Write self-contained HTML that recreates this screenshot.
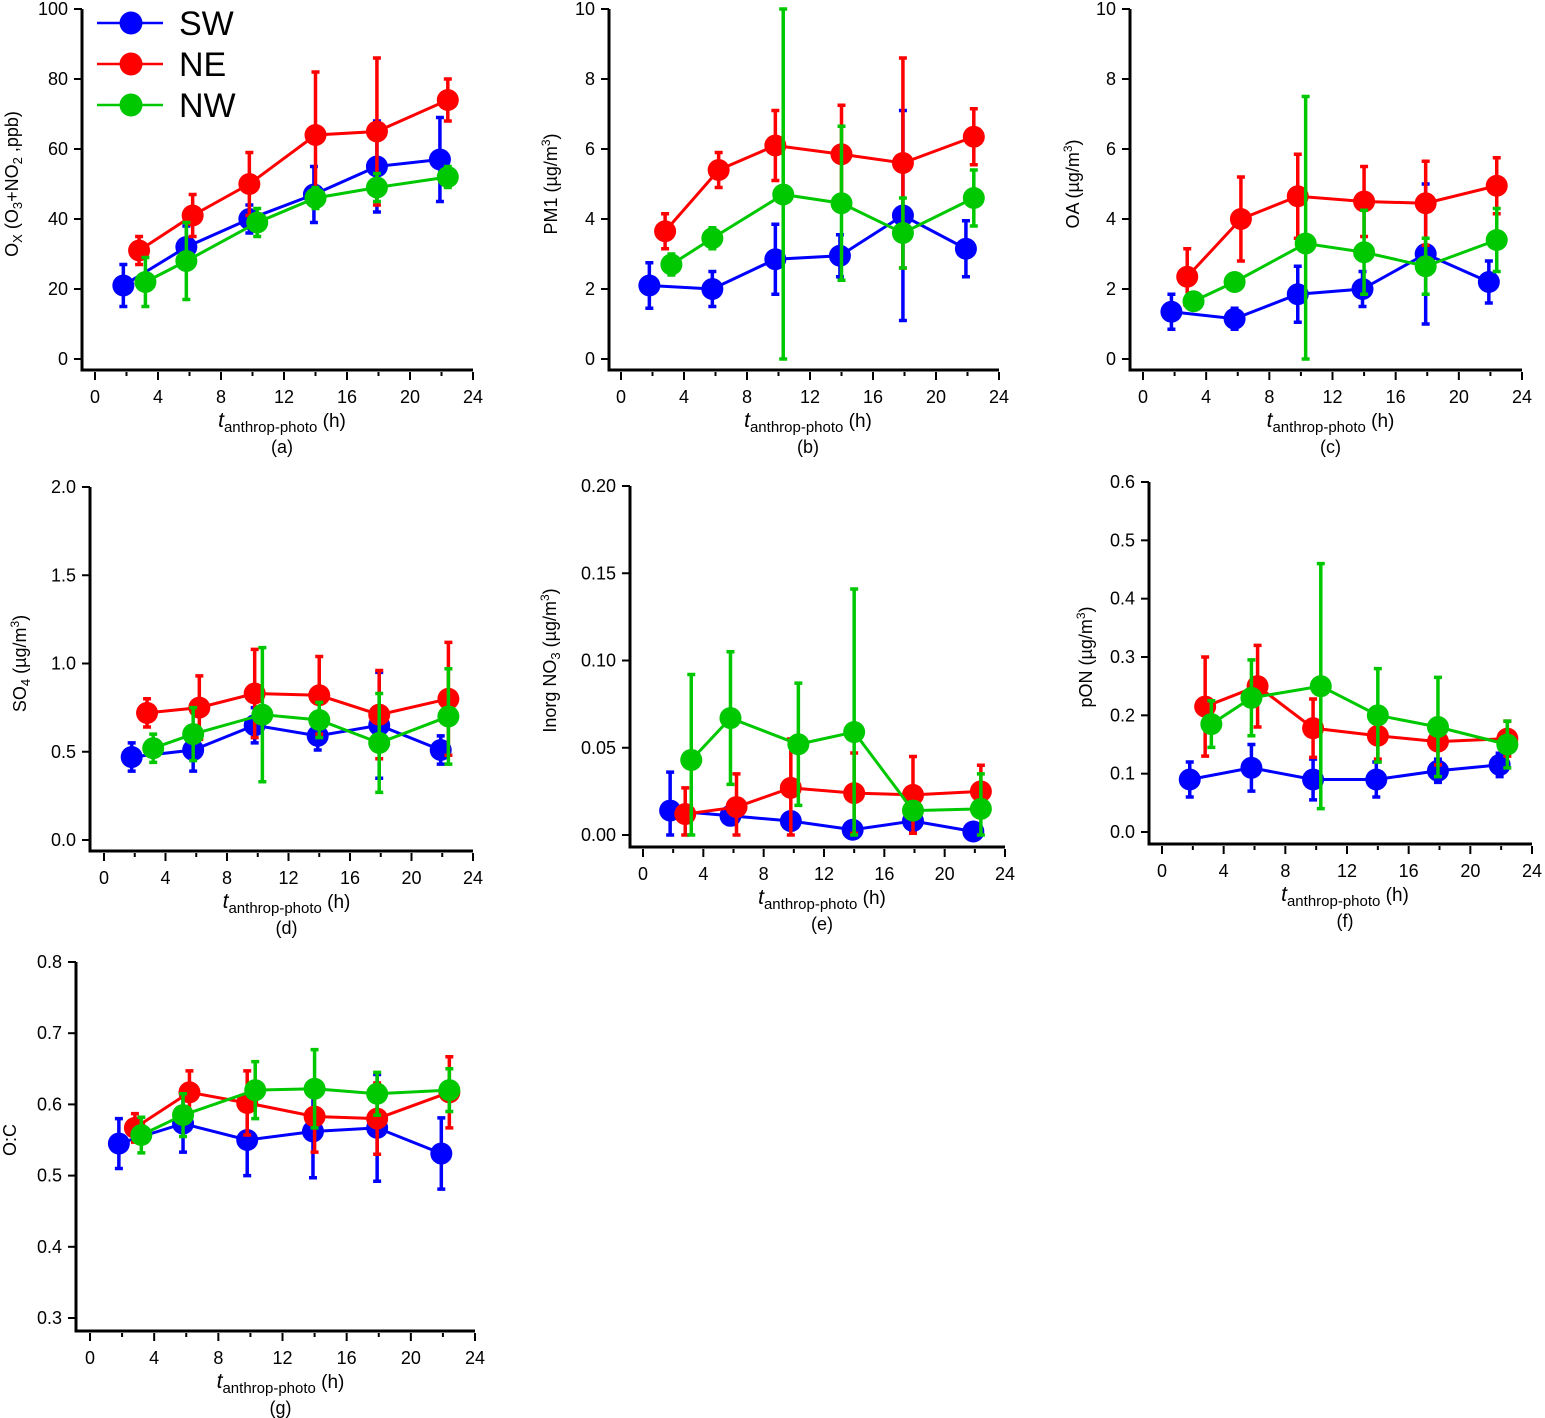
<!DOCTYPE html>
<html><head><meta charset="utf-8"><style>
html,body{margin:0;padding:0;background:#fff;}
svg{display:block;font-family:"Liberation Sans",Arial,sans-serif;}
</style></head><body>
<svg id="fig" width="1545" height="1418" viewBox="0 0 1545 1418" xmlns="http://www.w3.org/2000/svg"></svg>
<script>
const xSW = [1.8, 5.8, 9.8, 13.9, 17.9, 21.9];
const xNE = [2.8, 6.2, 9.8, 14.0, 17.9, 22.4];
const xNW = [3.2, 5.8, 10.3, 14.0, 17.9, 22.4];

const aSW = [21, 32, 40, 47, 55, 57];      const aSWe = [6, 6, 4, 8, 13, 12];
const aNE = [31, 41, 50, 64, 65, 74];      const aNEe = [4, 6, 9, 18, 21, 6];
const aNW = [22, 28, 39, 46, 49, 52];      const aNWe = [7, 11, 4, 3, 4, 3];

const bSW = [2.1, 2.0, 2.85, 2.95, 4.1, 3.15]; const bSWe = [0.65, 0.5, 1.0, 0.6, 3.0, 0.8];
const bNE = [3.65, 5.4, 6.1, 5.85, 5.6, 6.35]; const bNEe = [0.5, 0.5, 1.0, 1.4, 3.0, 0.8];
const bNW = [2.7, 3.45, 4.7, 4.45, 3.6, 4.6];  const bNWe = [0.3, 0.3, 5.5, 2.2, 1.0, 0.8];

const cSW = [1.35, 1.15, 1.85, 2.0, 3.0, 2.2];  const cSWe = [0.5, 0.3, 0.8, 0.5, 2.0, 0.6];
const cNE = [2.35, 4.0, 4.65, 4.5, 4.45, 4.95]; const cNEe = [0.8, 1.2, 1.2, 1.0, 1.2, 0.8];
const cNW = [1.65, 2.2, 3.3, 3.05, 2.65, 3.4];  const cNWe = [0.2, 0.2, 4.2, 1.2, 0.8, 0.9];

const dSW = [0.47, 0.51, 0.65, 0.59, 0.65, 0.51]; const dSWe = [0.08, 0.12, 0.1, 0.08, 0.3, 0.08];
const dNE = [0.72, 0.75, 0.83, 0.82, 0.71, 0.80]; const dNEe = [0.08, 0.18, 0.25, 0.22, 0.25, 0.32];
const dNW = [0.52, 0.60, 0.71, 0.68, 0.55, 0.70]; const dNWe = [0.08, 0.15, 0.38, 0.1, 0.28, 0.27];

const eSW = [0.014, 0.011, 0.008, 0.003, 0.008, 0.002]; const eSWe = [0.022, 0.005, 0.005, 0.002, 0.005, 0.002];
const eNE = [0.012, 0.016, 0.027, 0.024, 0.023, 0.025]; const eNEe = [0.015, 0.019, 0.028, 0.023, 0.022, 0.015];
const eNW = [0.043, 0.067, 0.052, 0.059, 0.014, 0.015]; const eNWe = [0.049, 0.038, 0.035, 0.082, 0.005, 0.02];

const fSW = [0.09, 0.11, 0.09, 0.09, 0.105, 0.115]; const fSWe = [0.03, 0.04, 0.035, 0.03, 0.02, 0.02];
const fNE = [0.215, 0.25, 0.178, 0.165, 0.155, 0.16]; const fNEe = [0.085, 0.07, 0.05, 0.04, 0.04, 0.03];
const fNW = [0.185, 0.23, 0.25, 0.2, 0.18, 0.15]; const fNWe = [0.04, 0.065, 0.21, 0.08, 0.085, 0.04];

const gSW = [0.545, 0.573, 0.55, 0.562, 0.567, 0.531]; const gSWe = [0.035, 0.04, 0.05, 0.065, 0.075, 0.05];
const gNE = [0.567, 0.617, 0.602, 0.583, 0.58, 0.617]; const gNEe = [0.02, 0.03, 0.045, 0.05, 0.05, 0.05];
const gNW = [0.557, 0.585, 0.62, 0.622, 0.615, 0.62];  const gNWe = [0.025, 0.03, 0.04, 0.055, 0.03, 0.03];

const xTickLabels = ["0","4","8","12","16","20","24"];

const NS = "http://www.w3.org/2000/svg";
const svg = document.getElementById("fig");
function mk(tag, attrs, parent){
  const e = document.createElementNS(NS, tag);
  for (const k in attrs) e.setAttribute(k, attrs[k]);
  (parent||svg).appendChild(e);
  return e;
}
const COL = {SW:"#0000ff", NE:"#ff0000", NW:"#00c800"};

function panel(p){
  const g = mk("g", {});
  
  
  const X = v => p.x0 + (p.x24 - p.x0) * v / 24;
  const Y = v => p.yb + (p.yt - p.yb) * (v - p.ymin) / (p.ymax - p.ymin);
  const ax = mk("path", {d:`M${p.ax},${Y(p.ymax)} V${p.ay} H${X(24)}`, fill:"none", stroke:"#000", "stroke-width":3}, g);
  
  
  for (let i = 0; i < p.yticks.length; i++){
    const v = p.yticks[i];
    mk("line", {x1:p.ax-8, x2:p.ax, y1:Y(v), y2:Y(v), stroke:"#000", "stroke-width":2}, g);
    const t = mk("text", {x:p.ax-14, y:Y(v)+6, "text-anchor":"end", "font-size":18}, g);
    t.textContent = p.ylabels[i];
    
    
  }
  for (let h = 0; h <= 24; h += 2){
    const major = h % 4 === 0;
    mk("line", {x1:X(h), x2:X(h), y1:p.ay+2, y2:p.ay+(major?10:6), stroke:"#000", "stroke-width":2}, g);
  }
  for (let i = 0; i < xTickLabels.length; i++){
    const t = mk("text", {x:X(i*4), y:p.ay+33, "text-anchor":"middle", "font-size":18}, g);
    t.textContent = xTickLabels[i];
    
    
  }
  const xt = mk("text", {x:(X(0)+X(24))/2 - 2, y:p.ay+57, "text-anchor":"middle", "font-size":19}, g);
  xt.innerHTML = '<tspan font-style="italic" font-size="21">t</tspan><tspan font-size="15" dy="5">anthrop-photo</tspan><tspan dy="-5"> (h)</tspan>';
  
  
  const lab = mk("text", {x:(X(0)+X(24))/2 - 2, y:p.ay+83, "text-anchor":"middle", "font-size":18}, g);
  lab.textContent = "(" + p.id + ")";
  
  
  const cy = (Y(p.ymin)+Y(p.ymax))/2;
  const yt = mk("text", {x:0, y:0, "text-anchor":"middle", "font-size":18, transform:`translate(${p.ytx},${cy}) rotate(-90)`}, g);
  yt.innerHTML = p.ytitle;
  
  
  for (const s of p.series){
    const sg = mk("g", {}, g);
    
    
    const c = COL[s.name];
    let d = "";
    s.x.forEach((xv, i) => { d += (i ? "L" : "M") + X(xv) + "," + Y(s.y[i]); });
    mk("path", {d, fill:"none", stroke:c, "stroke-width":3}, sg);
    s.x.forEach((xv, i) => {
      const cx = X(xv), y1 = Y(Math.min(p.ymax, s.y[i] + s.e[i])), y2 = Y(Math.max(p.ymin, s.y[i] - s.e[i]));
      const eb = mk("path", {d:`M${cx},${y1}V${y2}M${cx-4},${y1}H${cx+4}M${cx-4},${y2}H${cx+4}`, stroke:c, "stroke-width":3.5, fill:"none"}, sg);
      
      
    });
    s.x.forEach((xv, i) => {
      const m = mk("circle", {cx:X(xv), cy:Y(s.y[i]), r:11, fill:c}, sg);
      
      
    });
  }
}
const fmt = (arr, d) => arr.map(v => v.toFixed(d));

panel({id:"a", x0:95, x24:473, yb:359, yt:9, ymin:0, ymax:100, ax:82, ay:370,
  yticks:[0,20,40,60,80,100], ylabels:fmt([0,20,40,60,80,100],0), ytx:18,
  ytitle:'O<tspan font-size="13" dy="4">X</tspan><tspan dy="-4"> (O</tspan><tspan font-size="13" dy="4">3</tspan><tspan dy="-4">+NO</tspan><tspan font-size="13" dy="4">2</tspan><tspan dy="-4"> ,ppb)</tspan>',
  series:[{name:"SW",x:xSW,y:aSW,e:aSWe},{name:"NE",x:xNE,y:aNE,e:aNEe},{name:"NW",x:xNW,y:aNW,e:aNWe}]});
panel({id:"b", x0:621, x24:999, yb:359, yt:9, ymin:0, ymax:10, ax:609, ay:370,
  yticks:[0,2,4,6,8,10], ylabels:fmt([0,2,4,6,8,10],0), ytx:557,
  ytitle:'PM1 (µg/m<tspan font-size="12" dy="-7">3</tspan><tspan dy="7">)</tspan>',
  series:[{name:"SW",x:xSW,y:bSW,e:bSWe},{name:"NE",x:xNE,y:bNE,e:bNEe},{name:"NW",x:xNW,y:bNW,e:bNWe}]});
panel({id:"c", x0:1143, x24:1522, yb:359, yt:9, ymin:0, ymax:10, ax:1130, ay:370,
  yticks:[0,2,4,6,8,10], ylabels:fmt([0,2,4,6,8,10],0), ytx:1079,
  ytitle:'OA (µg/m<tspan font-size="12" dy="-7">3</tspan><tspan dy="7">)</tspan>',
  series:[{name:"SW",x:xSW,y:cSW,e:cSWe},{name:"NE",x:xNE,y:cNE,e:cNEe},{name:"NW",x:xNW,y:cNW,e:cNWe}]});
panel({id:"d", x0:104, x24:473, yb:840, yt:487, ymin:0, ymax:2, ax:90, ay:851,
  yticks:[0,0.5,1,1.5,2], ylabels:fmt([0,0.5,1,1.5,2],1), ytx:26,
  ytitle:'SO<tspan font-size="13" dy="4">4</tspan><tspan dy="-4"> (µg/m</tspan><tspan font-size="12" dy="-7">3</tspan><tspan dy="7">)</tspan>',
  series:[{name:"SW",x:xSW,y:dSW,e:dSWe},{name:"NE",x:xNE,y:dNE,e:dNEe},{name:"NW",x:xNW,y:dNW,e:dNWe}]});
panel({id:"e", x0:643, x24:1005, yb:835, yt:486, ymin:0, ymax:0.2, ax:630, ay:847,
  yticks:[0,0.05,0.1,0.15,0.2], ylabels:fmt([0,0.05,0.1,0.15,0.2],2), ytx:556,
  ytitle:'Inorg NO<tspan font-size="13" dy="4">3</tspan><tspan dy="-4"> (µg/m</tspan><tspan font-size="12" dy="-7">3</tspan><tspan dy="7">)</tspan>',
  series:[{name:"SW",x:xSW,y:eSW,e:eSWe},{name:"NE",x:xNE,y:eNE,e:eNEe},{name:"NW",x:xNW,y:eNW,e:eNWe}]});
panel({id:"f", x0:1162, x24:1532, yb:832, yt:482, ymin:0, ymax:0.6, ax:1149, ay:844,
  yticks:[0,0.1,0.2,0.3,0.4,0.5,0.6], ylabels:fmt([0,0.1,0.2,0.3,0.4,0.5,0.6],1), ytx:1092,
  ytitle:'pON (µg/m<tspan font-size="12" dy="-7">3</tspan><tspan dy="7">)</tspan>',
  series:[{name:"SW",x:xSW,y:fSW,e:fSWe},{name:"NE",x:xNE,y:fNE,e:fNEe},{name:"NW",x:xNW,y:fNW,e:fNWe}]});
panel({id:"g", x0:90, x24:475, yb:1318, yt:962, ymin:0.3, ymax:0.8, ax:76, ay:1331,
  yticks:[0.3,0.4,0.5,0.6,0.7,0.8], ylabels:fmt([0.3,0.4,0.5,0.6,0.7,0.8],1), ytx:16,
  ytitle:'O:C',
  series:[{name:"SW",x:xSW,y:gSW,e:gSWe},{name:"NE",x:xNE,y:gNE,e:gNEe},{name:"NW",x:xNW,y:gNW,e:gNWe}]});

const legNames = ["SW","NE","NW"];
const leg = mk("g", {});


legNames.forEach((n, i) => {
  const y = 23 + i * 41;
  const eg = mk("g", {}, leg);
  
  
  mk("line", {x1:97, x2:163, y1:y, y2:y, stroke:COL[n], "stroke-width":2.5}, eg);
  mk("circle", {cx:131, cy:y, r:11.5, fill:COL[n]}, eg);
  const t = mk("text", {x:179, y:y+12, "font-size":34}, eg);
  t.textContent = n;
});
</script>
</body></html>
